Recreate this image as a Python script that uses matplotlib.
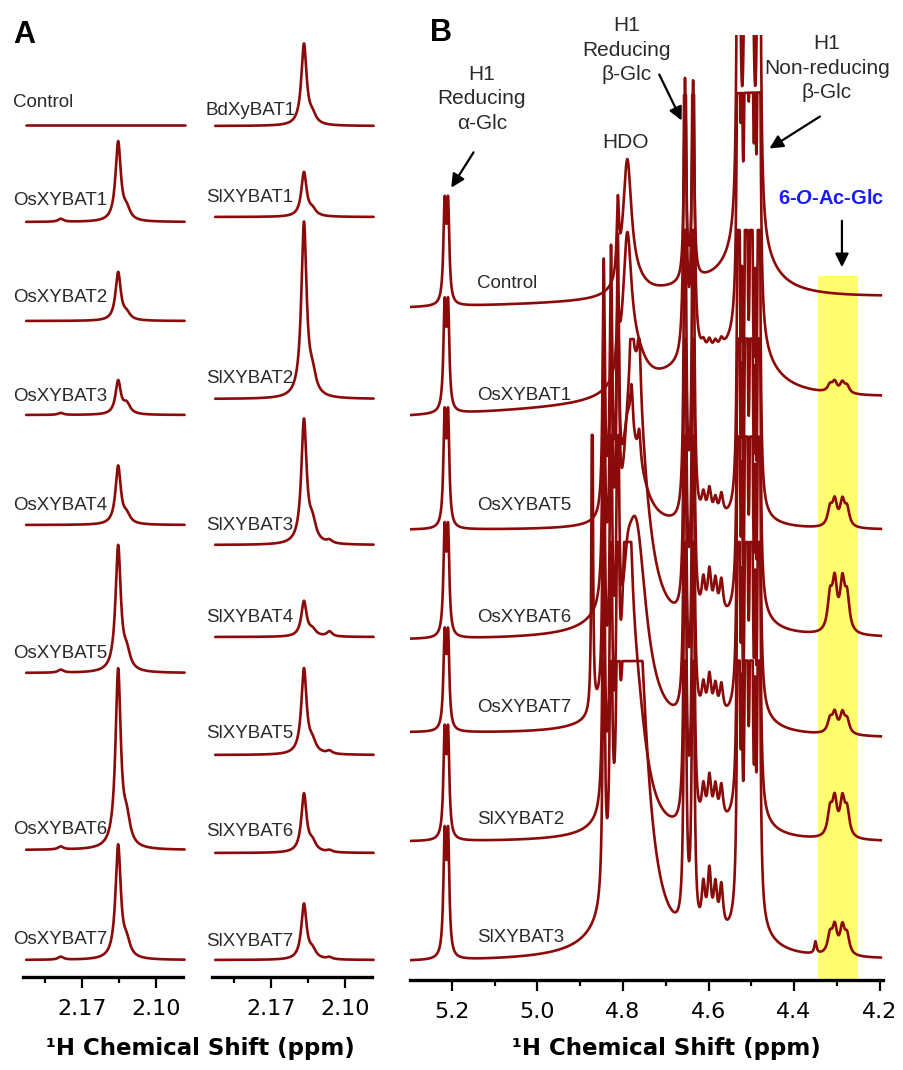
import numpy as np
import matplotlib
matplotlib.use('Agg')
import matplotlib.pyplot as plt
from matplotlib.ticker import FixedLocator

plt.rcParams['font.family'] = ['Liberation Sans', 'DejaVu Sans']
plt.rcParams['mathtext.fontset'] = 'custom'
plt.rcParams['mathtext.rm'] = 'Liberation Sans'
plt.rcParams['mathtext.bf'] = 'Liberation Sans:bold'
plt.rcParams['mathtext.it'] = 'Liberation Sans:italic'
plt.rcParams['mathtext.bfit'] = 'Liberation Sans:italic:bold'

RED = '#8b0a0a'
TXT = '#2a2a2a'

# ---------------- panel A data (heights in px above each baseline) ----------------
A_left_names = ['Control', 'OsXYBAT1', 'OsXYBAT2', 'OsXYBAT3', 'OsXYBAT4',
                'OsXYBAT5', 'OsXYBAT6', 'OsXYBAT7']
A_left_base = [125, 222, 321, 415, 525, 673, 850, 960]
A_left_label_y = [102, 200, 297, 396, 505, 653, 830, 940]
A_left_main = [0, 79, 48, 33, 58, 125, 177, 113]
A_left_shoulder = [0, 10, 6, 10, 8, 16, 24, 14]
A_left_bump = [0, 3, 0, 2, 0, 3, 3, 3]

A_right_names = ['BdXyBAT1', 'SlXYBAT1', 'SlXYBAT2', 'SlXYBAT3', 'SlXYBAT4',
                 'SlXYBAT5', 'SlXYBAT6', 'SlXYBAT7']
A_right_base = [126, 217, 399, 545, 637, 755, 853, 960]
A_right_label_y = [110, 197, 378, 525, 617, 733, 832, 942]
A_right_main = [81, 44, 174, 123, 35, 85, 58, 55]
A_right_shoulder = [8, 6, 18, 18, 6, 10, 9, 8]
A_right_bump = [0, 0, 0, 3, 5, 3, 2, 2]

A_peak_ppm = [2.136, 2.139]        # left / right column
A_shoulder_ppm = [2.128, 2.131]
A_bump_ppm = [2.190, 2.115]
A_hwhm = 0.003

# ---------------- panel B data ----------------
B_names = ['Control', 'OsXYBAT1', 'OsXYBAT5', 'OsXYBAT6', 'OsXYBAT7',
           'SlXYBAT2', 'SlXYBAT3']
B_base_left = [308, 417, 530, 640, 733, 842, 962]
B_base_right = [298, 400, 530, 638, 738, 842, 960]
B_label_y = [283, 395, 505, 617, 708, 820, 938]
B_cap = [2000, 312, 300, 300, 300, 300, 300]

# peak table: position (ppm) and half width (ppm)
B_peak_ppm = [5.217, 5.209, 4.875, 4.872, 4.845, 4.828, 4.812, 4.790, 4.770,
              4.780, 4.762, 4.655, 4.636, 4.612, 4.598, 4.584, 4.570,
              4.530, 4.512, 4.500, 4.482, 4.505, 4.620, 4.350,
              4.316, 4.305, 4.287, 4.276, 4.522, 4.491]
B_peak_hwhm = [0.0035, 0.0035, 0.04, 0.0018, 0.003, 0.003, 0.003, 0.012, 0.03,
               0.004, 0.004, 0.003, 0.003, 0.005, 0.005, 0.005, 0.005,
               0.0025, 0.0025, 0.0025, 0.0025, 0.045, 0.12, 0.003,
               0.0065, 0.0065, 0.0065, 0.0065, 0.0015, 0.0015]
# heights (px) of every peak in every trace
B_heights = [
    [95, 95, 0, 0, 0, 0, 70, 130, 10, 0, 0, 200, 195, 0, 0, 0, 0,
     900, 900, 900, 900, 70, 12, 0, 0, 0, 0, 0, 0, 0],
    [100, 100, 0, 0, 0, 0, 60, 140, 30, 0, 0, 400, 400, 8, 10, 8, 8,
     700, 700, 700, 700, 55, 40, 0, 7, 10, 10, 7, 200, 200],
    [105, 105, 0, 0, 250, 250, 250, 60, 60, 50, 30, 400, 400, 22, 28, 18, 22,
     600, 600, 600, 600, 15, 0, 0, 17, 24, 24, 17, 150, 150],
    [100, 100, 0, 0, 300, 300, 300, 40, 250, 80, 60, 400, 400, 35, 45, 35, 35,
     600, 600, 600, 600, 25, 0, 0, 33, 47, 47, 33, 150, 150],
    [90, 90, 0, 400, 300, 300, 300, 50, 200, 0, 0, 400, 400, 30, 40, 30, 30,
     600, 600, 600, 600, 25, 0, 0, 13, 19, 19, 13, 150, 150],
    [100, 100, 0, 0, 300, 300, 300, 300, 120, 0, 0, 400, 400, 35, 45, 35, 35,
     600, 600, 600, 600, 25, 0, 0, 25, 35, 35, 25, 150, 150],
    [115, 115, 0, 0, 300, 300, 300, 200, 350, 0, 0, 400, 400, 45, 60, 45, 45,
     600, 600, 600, 600, 35, 0, 12, 18, 26, 26, 18, 150, 150],
]


def lor(x, c, h, w):
    return h / (1 + ((x - c) / w) ** 2)


def style_axis(ax, xlim, top):
    ax.set_xlim(*xlim)
    ax.set_ylim(0, top)
    for s in ['top', 'left', 'right']:
        ax.spines[s].set_visible(False)
    ax.spines['bottom'].set_linewidth(2.4)
    ax.set_yticks([])
    ax.tick_params(axis='x', which='major', direction='out', length=8, width=1.6,
                   labelsize=16, pad=8)
    ax.tick_params(axis='x', which='minor', direction='out', length=4.5, width=1.6)
    ax.patch.set_alpha(0)


fig = plt.figure(figsize=(9.04, 10.70), dpi=100)
W, H = 904, 1070

# ---------------- panel A ----------------
A_top = 947
A_xlim = (2.2255, 2.075)
xa = np.linspace(2.2225, 2.0735, 700)
cols = [(23, A_left_names, A_left_base, A_left_label_y, A_left_main, A_left_shoulder, A_left_bump, 2.2349),
        (212, A_right_names, A_right_base, A_right_label_y, A_right_main, A_right_shoulder, A_right_bump, 2.2315)]
for ci, (left, names, base, laby, main, sh, bump, labx) in enumerate(cols):
    ax = fig.add_axes([left / W, (H - 977) / H, 160 / W, A_top / H])
    style_axis(ax, A_xlim, A_top)
    ax.xaxis.set_major_locator(FixedLocator([2.17, 2.10]))
    ax.xaxis.set_minor_locator(FixedLocator([2.205, 2.135]))
    ax.set_xticklabels(['2.17', '2.10'], family='DejaVu Sans', fontsize=16)
    for i, name in enumerate(names):
        y = (977 - base[i]) + lor(xa, A_peak_ppm[ci], main[i], A_hwhm) \
            + lor(xa, A_shoulder_ppm[ci], sh[i], 0.004) \
            + lor(xa, A_bump_ppm[ci], bump[i], 0.003)
        ax.plot(xa, y, color=RED, lw=1.9, solid_capstyle='round', clip_on=False)
        ax.text(labx, 977 - laby[i], name, fontsize=13.5, color=TXT,
                ha='left', va='center')

fig.text(200 / W, 1 - 1048 / H, '¹H Chemical Shift (ppm)', fontsize=16.5,
         fontweight='bold', family='DejaVu Sans', ha='center', va='center')
fig.text(13 / W, 1 - 35 / H, 'A', fontsize=22, fontweight='bold', ha='left', va='center')

# ---------------- panel B ----------------
B_top = 945
axB = fig.add_axes([410 / W, (H - 980) / H, 473 / W, B_top / H])
style_axis(axB, (5.298, 4.192), B_top)
axB.xaxis.set_major_locator(FixedLocator([5.2, 5.0, 4.8, 4.6, 4.4, 4.2]))
axB.xaxis.set_minor_locator(FixedLocator([5.3, 5.1, 4.9, 4.7, 4.5, 4.3]))
axB.set_xticklabels(['5.2', '5.0', '4.8', '4.6', '4.4', '4.2'], family='DejaVu Sans', fontsize=16)

axB.axvspan(4.344, 4.251, ymin=0, ymax=704 / B_top, color='#ffff6e', lw=0, zorder=0)

xb = np.linspace(5.295, 4.197, 4000)
for i, name in enumerate(B_names):
    sig = np.zeros_like(xb)
    for c, w, h in zip(B_peak_ppm, B_peak_hwhm, B_heights[i]):
        if h:
            sig += lor(xb, c, h, w)
    sig = np.minimum(sig, B_cap[i])
    frac = (5.295 - xb) / (5.295 - 4.197)
    base = (980 - B_base_left[i]) * (1 - frac) + (980 - B_base_right[i]) * frac
    axB.plot(xb, base + sig, color=RED, lw=1.9, zorder=2)
    axB.text(5.1415, 980 - B_label_y[i], name, fontsize=13.5, color=TXT,
             ha='left', va='center', zorder=3)

ann = dict(fontsize=15, color=TXT, ha='center', va='center', linespacing=1.35)
axB.text(5.130, 881, 'H1\nReducing\nα-Glc', **ann)
axB.text(4.791, 930, 'H1\nReducing\nβ-Glc', **ann)
axB.text(4.795, 837, 'HDO', **ann)
axB.text(4.323, 912, 'H1\nNon-reducing\nβ-Glc', **ann)
axB.text(4.313, 782, r'6-$\mathbfit{O}$-Ac-Glc', fontsize=14.5, fontweight='bold',
         color='#1a1aff', ha='center', va='center')

arrow = dict(arrowstyle='-|>', color='black', lw=1.6, mutation_scale=20)
axB.annotate('', xy=(5.205, 790), xytext=(5.146, 830), arrowprops=arrow)
axB.annotate('', xy=(4.660, 857), xytext=(4.718, 908), arrowprops=arrow)
axB.annotate('', xy=(4.463, 830), xytext=(4.334, 865), arrowprops=arrow)
axB.annotate('', xy=(4.288, 710), xytext=(4.288, 762), arrowprops=arrow)

fig.text(666 / W, 1 - 1048 / H, '¹H Chemical Shift (ppm)', fontsize=16.5,
         fontweight='bold', family='DejaVu Sans', ha='center', va='center')
fig.text(430 / W, 1 - 33 / H, 'B', fontsize=22, fontweight='bold', ha='left', va='center')

fig.savefig('out.png', dpi=100)
